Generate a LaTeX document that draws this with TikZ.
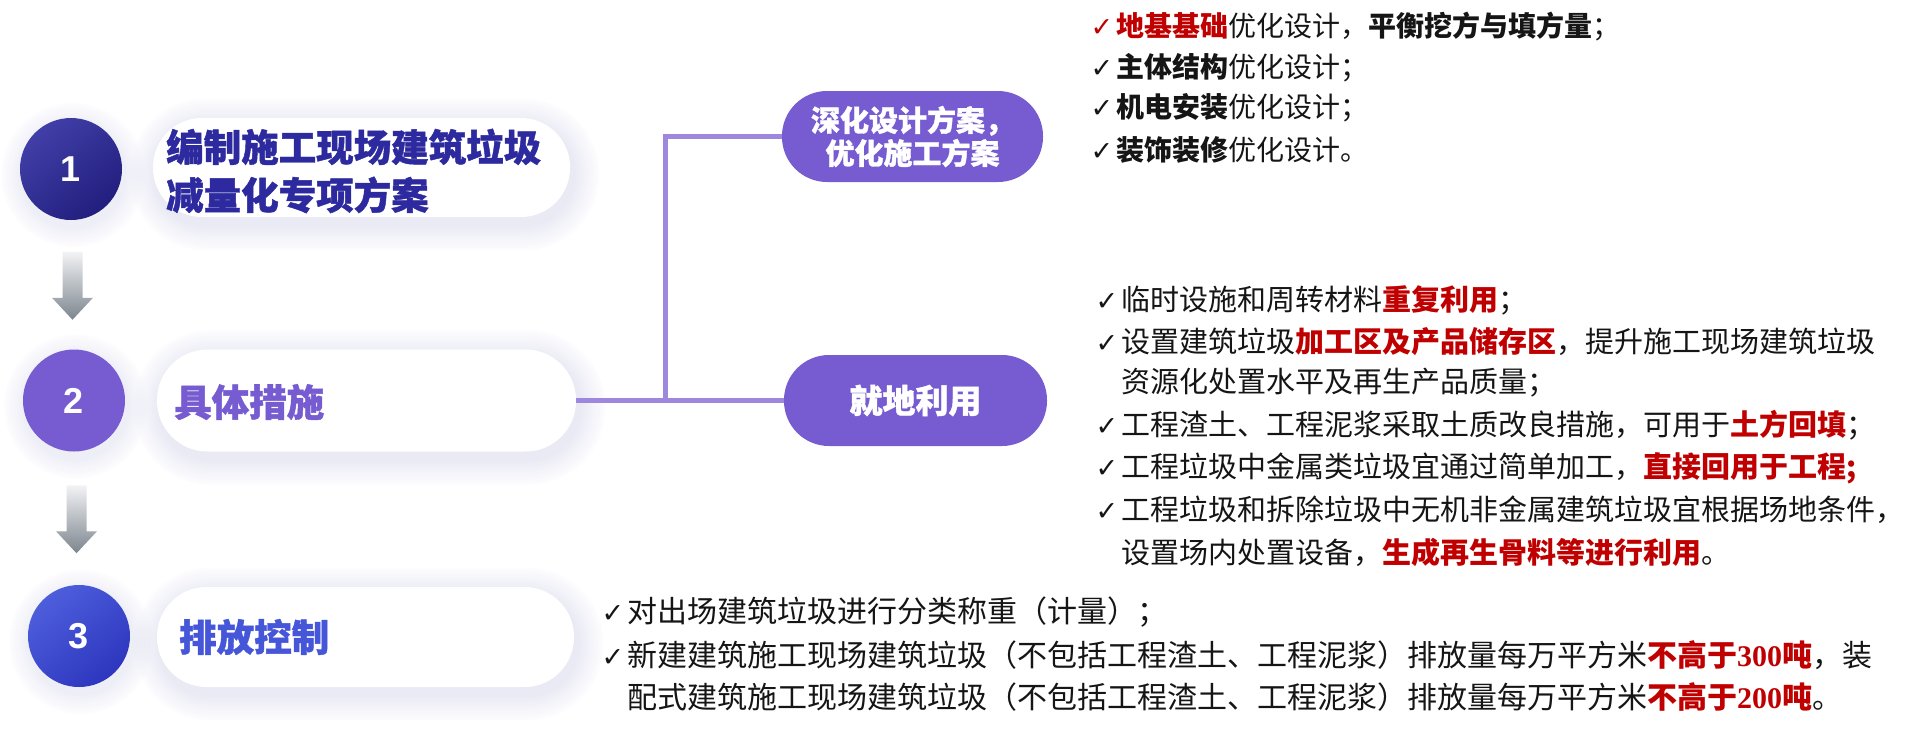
\documentclass[tikz,border=0pt]{standalone}
\usepackage{fontspec}
\usetikzlibrary{calc}
\newfontfamily\cjk{Noto Sans CJK SC}
\newfontfamily\cjkh{Noto Sans CJK SC}[BoldFeatures={FakeBold=1.2}]
\newfontfamily\arialf{Liberation Sans}
\newfontfamily\tnrf{Liberation Serif}
\newfontfamily\dvf{DejaVu Sans}
\definecolor{navy}{HTML}{2C2A9E}
\definecolor{navyb}{HTML}{221E7E}
\definecolor{purp}{HTML}{765CD0}
\definecolor{blu}{HTML}{4656D8}
\definecolor{blua}{HTML}{4D5EDC}
\definecolor{blub}{HTML}{2D36BE}
\definecolor{linec}{HTML}{9D88DD}
\definecolor{redc}{HTML}{C00000}
\definecolor{glowc}{HTML}{C4C4EC}
\definecolor{txt}{HTML}{151515}
\definecolor{arrtop}{HTML}{F2F3F5}
\definecolor{arrbot}{HTML}{7C858E}
\newcommand{\rb}[1]{{\bfseries\color{redc}#1}}
\newcommand{\bk}[1]{{\bfseries #1}}
\newcommand{\ck}[1][txt]{\llap{\color{#1}\dvf\fontsize{27}{27}\selectfont ✓\hspace{3pt}}}
\pgfdeclarelayer{bgzero}
\pgfdeclarelayer{glowl}
\pgfsetlayers{bgzero,glowl,main}
\begin{document}
\begin{tikzpicture}[x=1pt,y=-1pt,
  numc/.style={circle,minimum size=102,inner sep=0,text=white,font=\arialf\bfseries\fontsize{36}{36}\selectfont},
  pillw/.style={rectangle,fill=white,inner sep=0},
  pillp/.style={rectangle,fill=purp,inner sep=0,text=white,rounded corners=45},
  headt/.style={anchor=west,inner sep=0,align=left,font=\cjkh\bfseries\fontsize{37.5}{48}\selectfont},
  conn/.style={draw=linec,line width=5},
  la/.style={anchor=west,inner sep=0,text=txt,font=\cjk\fontsize{28}{34}\selectfont},
  lb/.style={anchor=west,inner sep=0,text=txt,font=\cjk\fontsize{29}{34}\selectfont},
  lc/.style={anchor=west,inner sep=0,text=txt,font=\cjk\fontsize{30}{34}\selectfont},
  garr/.style={top color=arrtop,bottom color=arrbot}
]
\begin{pgfonlayer}{bgzero}
\fill[white] (0,0) rectangle (1907,753);
\end{pgfonlayer}
\useasboundingbox (0,0) rectangle (1907,753);

% step circles
\node[numc,top color=navy!90!white,bottom color=navyb,shading angle=40] (c1) at (71,169) {1};
\node[numc,fill=purp] (c2) at (74,400.5) {2};
\node[numc,top color=blua,bottom color=blub,shading angle=40] (c3) at (79,636) {3};

% white pills
\node[pillw,rounded corners=49,minimum width=417,minimum height=99] (p1) at (361.5,167.5) {};
\node[headt,text=navy] (t1) at (166,171) {编制施工现场建筑垃圾\\减量化专项方案};
\node[pillw,rounded corners=50.5,minimum width=419,minimum height=102] (p2) at (366.5,400.5) {};
\node[headt,text=purp] (t2) at (174,402) {具体措施};
\node[pillw,rounded corners=49.5,minimum width=417,minimum height=100] (p3) at (365.5,637) {};
\node[headt,text=blu] (t3) at (179,637) {排放控制};

% purple pills
\node[pillp,minimum width=261,minimum height=91,align=center,font=\cjkh\bfseries\fontsize{29}{33}\selectfont] (pa) at (912.5,136.5) {深化设计方案，\\优化施工方案};
\node[pillp,minimum width=263,minimum height=91,font=\cjkh\bfseries\fontsize{33}{33}\selectfont] (pb) at (915.5,400.5) {就地利用\hspace{38pt}};

% connectors
\coordinate (jn) at (665,400.5);
\draw[conn] (p2.east) -- (pb.west);
\draw[conn] (jn) |- (pa.west);

% grey arrows between circles
\coordinate (a1) at ($(c1.south)!0.5!(c2.north)$);
\coordinate (a2) at ($(c2.south)!0.5!(c3.north)$);
\foreach \a in {a1,a2}{
  \shade[garr] ($(\a)+(-10,-33)$) -- ($(\a)+(10,-33)$) -- ($(\a)+(10,13)$) -- ($(\a)+(20.5,13)$) -- ($(\a)+(0,35)$) -- ($(\a)+(-20.5,13)$) -- ($(\a)+(-10,13)$) -- cycle;
}

% glows
\begin{pgfonlayer}{glowl}
\foreach \n/\r in {p1/49,p2/50.5,p3/49.5}{
  \foreach \i in {1,...,10}{
    \fill[glowc,opacity=0.035,rounded corners={\r+\i*2.6}] ($(\n.north west)+({-\i*2.6+3},{-\i*2.6+7})$) rectangle ($(\n.south east)+({\i*2.6+3},{\i*2.6+7})$);
  }
}
\foreach \n in {c1,c2,c3}{
  \foreach \i in {1,...,8}{
    \fill[glowc,opacity=0.035] ($(\n.center)+(2,6)$) circle [radius={51pt+\i*2.6pt}];
  }
}
\end{pgfonlayer}

% right list 1
\node[la] (r11) at (1116,27) {\ck[redc]\rb{地基基础}优化设计，\bk{平衡挖方与填方量}；};
\node[la] (r12) at (1116,68) {\ck\bk{主体结构}优化设计；};
\node[la] (r13) at (1116,108) {\ck\bk{机电安装}优化设计；};
\node[la] (r14) at (1116,150) {\ck\bk{装饰装修}优化设计。};

% right list 2
\node[lb] (r21) at (1121,300) {\ck 临时设施和周转材料\rb{重复利用}；};
\node[lb] (r22) at (1121,342) {\ck 设置建筑垃圾\rb{加工区及产品储存区}，提升施工现场建筑垃圾};
\node[lb] (r23) at (1121,383) {资源化处置水平及再生产品质量；};
\node[lb] (r24) at (1121,425) {\ck 工程渣土、工程泥浆采取土质改良措施，可用于\rb{土方回填}；};
\node[lb] (r25) at (1121,468) {\ck 工程垃圾中金属类垃圾宜通过简单加工，\rb{直接回用于工程;}};
\node[lb] (r26) at (1121,510) {\ck 工程垃圾和拆除垃圾中无机非金属建筑垃圾宜根据场地条件\makebox[0.35em][l]{，}};
\node[lb] (r27) at (1121,552) {设置场内处置设备，\rb{生成再生骨料等进行利用}。};

% bottom list
\node[lc] (r31) at (627,612) {\ck 对出场建筑垃圾进行分类称重（计量）；};
\node[lc] (r32) at (627,655) {\ck 新建建筑施工现场建筑垃圾（不包括工程渣土、工程泥浆）排放量每万平方米\rb{不高于{\tnrf 300}吨}，装};
\node[lc] (r33) at (627,697) {配式建筑施工现场建筑垃圾（不包括工程渣土、工程泥浆）排放量每万平方米\rb{不高于{\tnrf 200}吨}。};
\end{tikzpicture}
\end{document}
